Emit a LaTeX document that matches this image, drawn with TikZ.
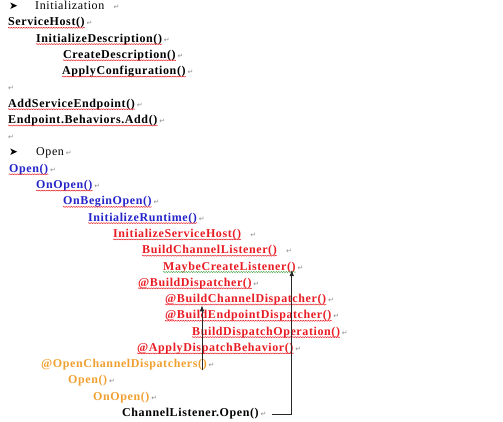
\documentclass[tikz,border=0pt]{standalone}
\usepackage{fontspec}
\setmainfont{Liberation Serif}[LetterSpace=5]
\newfontfamily\symfont{DejaVu Sans}
\usetikzlibrary{arrows.meta,decorations.pathmorphing}

\definecolor{callblue}{HTML}{2424C8}
\definecolor{callred}{HTML}{E81C24}
\definecolor{callorange}{HTML}{F0A030}
\definecolor{retgray}{HTML}{8C8C8C}
\definecolor{checkgreen}{HTML}{3CA03C}

\tikzset{
  call/.style={anchor=base west, inner sep=0pt, font=\fontsize{12}{14}\selectfont\bfseries},
  head/.style={anchor=base west, inner sep=0pt, font=\fontsize{12}{14}\selectfont},
  bullet/.style={anchor=base west, inner sep=0pt, font=\symfont\fontsize{10.5}{10.5}\selectfont},
  ret/.style={anchor=base west, inner sep=0pt, text=retgray, font=\symfont\fontsize{7}{7}\selectfont},
  squiggle/.style={decorate, decoration={snake, amplitude=.5pt, segment length=2.5pt}, draw=callred, line width=.5pt},
  flow/.style={draw=black!85, line width=.8pt, -{Latex[length=6pt,width=4.5pt]}}
}

\begin{document}
\begin{tikzpicture}[x=1pt, y=-1pt]
\useasboundingbox (0,0) rectangle (503,422);

% Initialization
\node[bullet] (b1) at (9,9.5) {➤};
\node[head] (init) at (35,9.5) {Initialization};
\node[call] (sh) at (8,25.8) {ServiceHost()};
\node[call] (idesc) at (36,42.1) {InitializeDescription()};
\node[call] (cdesc) at (63,58.3) {CreateDescription()};
\node[call] (aconf) at (62,74.6) {ApplyConfiguration()};
\node[ret] (e1) at (8,90.9) {↵};
\node[call] (ase) at (8,107.2) {AddServiceEndpoint()};
\node[call] (eba) at (8,123.5) {Endpoint.Behaviors.Add()};
\node[ret] (e2) at (8,139.7) {↵};

% Open
\node[bullet] (b2) at (9,156.0) {➤};
\node[head] (openh) at (36,156.0) {Open};
\node[call, text=callblue] (op) at (9,172.3) {Open()};
\node[call, text=callblue] (onop) at (36,188.6) {OnOpen()};
\node[call, text=callblue] (obo) at (63,204.9) {OnBeginOpen()};
\node[call, text=callblue] (irt) at (88,221.1) {InitializeRuntime()};
\node[call, text=callred] (ish) at (113,237.4) {InitializeServiceHost()};
\node[call, text=callred] (bcl) at (142,253.7) {BuildChannelListener()};
\node[call, text=callred] (mcl) at (163,270.0) {MaybeCreateListener()};
\node[call, text=callred] (bd) at (138,286.3) {@BuildDispatcher()};
\node[call, text=callred] (bcd) at (165,302.5) {@BuildChannelDispatcher()};
\node[call, text=callred] (bed) at (165,318.8) {@BuildEndpointDispatcher()};
\node[call, text=callred] (bdo) at (192,335.1) {BuildDispatchOperation()};
\node[call, text=callred] (adb) at (137,351.4) {@ApplyDispatchBehavior()};
\node[call, text=callorange] (ocd) at (41,367.7) {@OpenChannelDispatchers()};
\node[call, text=callorange] (op2) at (68,383.9) {Open()};
\node[call, text=callorange] (onop2) at (93,400.2) {OnOpen()};
\node[call] (clo) at (122,416.5) {ChannelListener.Open()};

% paragraph marks
\foreach \n in {sh,idesc,cdesc,aconf,ase,eba,openh,op,onop,obo,irt,mcl,bd,bcd,bed,bdo,adb,ocd,op2,onop2,clo}
  \node[ret] (\n-r) at ([xshift=1.5pt]\n.base east) {↵};
\foreach \n in {init,ish,bcl}
  \node[ret] (\n-r) at ([xshift=9pt]\n.base east) {↵};

% spelling underlines
\foreach \n in {sh,idesc,cdesc,aconf,ase,eba,op,onop,obo,irt,ish,bcl,bd,bcd,bed,bdo,adb}
  \draw[squiggle] ([yshift=-2pt]\n.base west) -- ([yshift=-2pt]\n.base east);
\draw[squiggle, draw=checkgreen] ([yshift=-2pt]mcl.base west) -- ([yshift=-2pt]mcl.base east);

% arrows
\draw[flow] ([xshift=5pt]clo-r.east) -| ([xshift=-4pt]mcl.base east);
\draw[flow] ([xshift=-5pt]ocd.south east) -- ([xshift=-5pt]ocd.south east |- bcd.south);
\end{tikzpicture}
\end{document}
